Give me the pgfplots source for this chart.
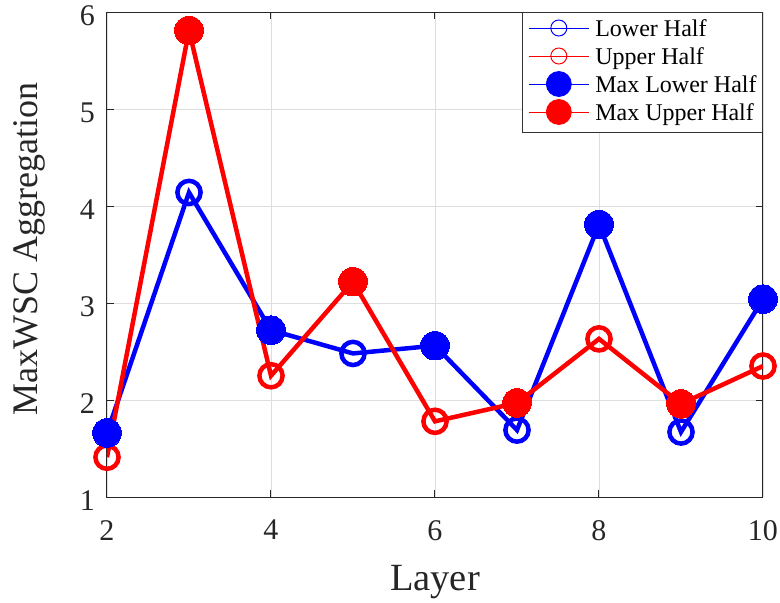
\documentclass[border=0pt]{standalone}
\usepackage{fontspec}
\setmainfont{Liberation Serif}
\usepackage{pgfplots}
\pgfplotsset{compat=1.18}
\begin{document}
\begin{tikzpicture}
\useasboundingbox (-107pt,-106pt) rectangle (673pt,497pt);
\begin{axis}[
  scale only axis, width=656pt, height=485pt,
  at={(0pt,0pt)}, anchor=south west,
  xmin=2, xmax=10, ymin=1, ymax=6,
  xtick={2,4,6,8,10}, ytick={1,2,3,4,5,6},
  grid=major, grid style={black!13, line width=0.8pt},
  axis line style={black!85, line width=1pt},
  tick style={black!85, line width=1pt},
  major tick length=7pt,
  /pgf/number format/assume math mode=true,
  tick label style={font=\fontsize{30}{36}\selectfont, text=black!85},
  xticklabel style={inner sep=0pt, yshift=-23pt},
  yticklabel style={inner sep=0pt, xshift=-12pt, yshift=-3.5pt},
  xlabel={Layer}, ylabel={MaxWSC Aggregation},
  xlabel style={font=\fontsize{38.5}{44}\selectfont, text=black!85, at={(axis description cs:0.5,-0.1918)}, anchor=base},
  ylabel style={font=\fontsize{36}{42}\selectfont, text=black!85, at={(axis description cs:-0.1067,0.511)}, anchor=base},
  legend style={at={(1,1)}, anchor=north east, draw=black!80, line width=0.8pt, fill=white,
    inner xsep=6pt, inner ysep=7pt, row sep=6pt, column sep=6pt,
    font=\fontsize{24}{28}\selectfont,
    nodes={inner sep=0pt, text height=17pt, text depth=5pt}},
  legend cell align=left,
]
\addlegendimage{legend image code/.code={\draw[blue, line width=1pt] (0pt,2.4pt) -- (60pt,2.4pt); \draw[blue, line width=1pt, overlay] (30pt,2.4pt) circle (8pt);}}
\addlegendentry{Lower Half}
\addlegendimage{legend image code/.code={\draw[red, line width=1pt] (0pt,2.4pt) -- (60pt,2.4pt); \draw[red, line width=1pt, overlay] (30pt,2.4pt) circle (8pt);}}
\addlegendentry{Upper Half}
\addlegendimage{legend image code/.code={\draw[blue, line width=1pt] (0pt,2.4pt) -- (60pt,2.4pt); \fill[blue, overlay] (30pt,2.4pt) circle (12.5pt);}}
\addlegendentry{Max Lower Half}
\addlegendimage{legend image code/.code={\draw[red, line width=1pt] (0pt,2.4pt) -- (60pt,2.4pt); \fill[red, overlay] (30pt,2.4pt) circle (12.5pt);}}
\addlegendentry{Max Upper Half}

% Lower half (blue)
\addplot[blue, line width=4.5pt, mark=o, mark size=11.6pt, forget plot] coordinates {
 (2,1.66) (3,4.14) (4,2.72) (5,2.48) (6,2.56) (7,1.69) (8,3.81) (9,1.67) (10,3.04)};
% Upper half (red)
\addplot[red, line width=4.5pt, mark=o, mark size=11.6pt, forget plot] coordinates {
 (2,1.41) (3,5.81) (4,2.25) (5,3.22) (6,1.78) (7,1.97) (8,2.63) (9,1.96) (10,2.35)};
% Max lower half
\addplot[only marks, blue, mark=*, mark size=14.3pt, mark options={line width=0pt, fill=blue, draw=blue}, forget plot] coordinates {
 (2,1.66) (4,2.72) (6,2.56) (8,3.81) (10,3.04)};
% Max upper half
\addplot[only marks, red, mark=*, mark size=14.3pt, mark options={line width=0pt, fill=red, draw=red}, forget plot] coordinates {
 (3,5.81) (5,3.22) (7,1.97) (9,1.96)};
\end{axis}
\end{tikzpicture}
\end{document}
